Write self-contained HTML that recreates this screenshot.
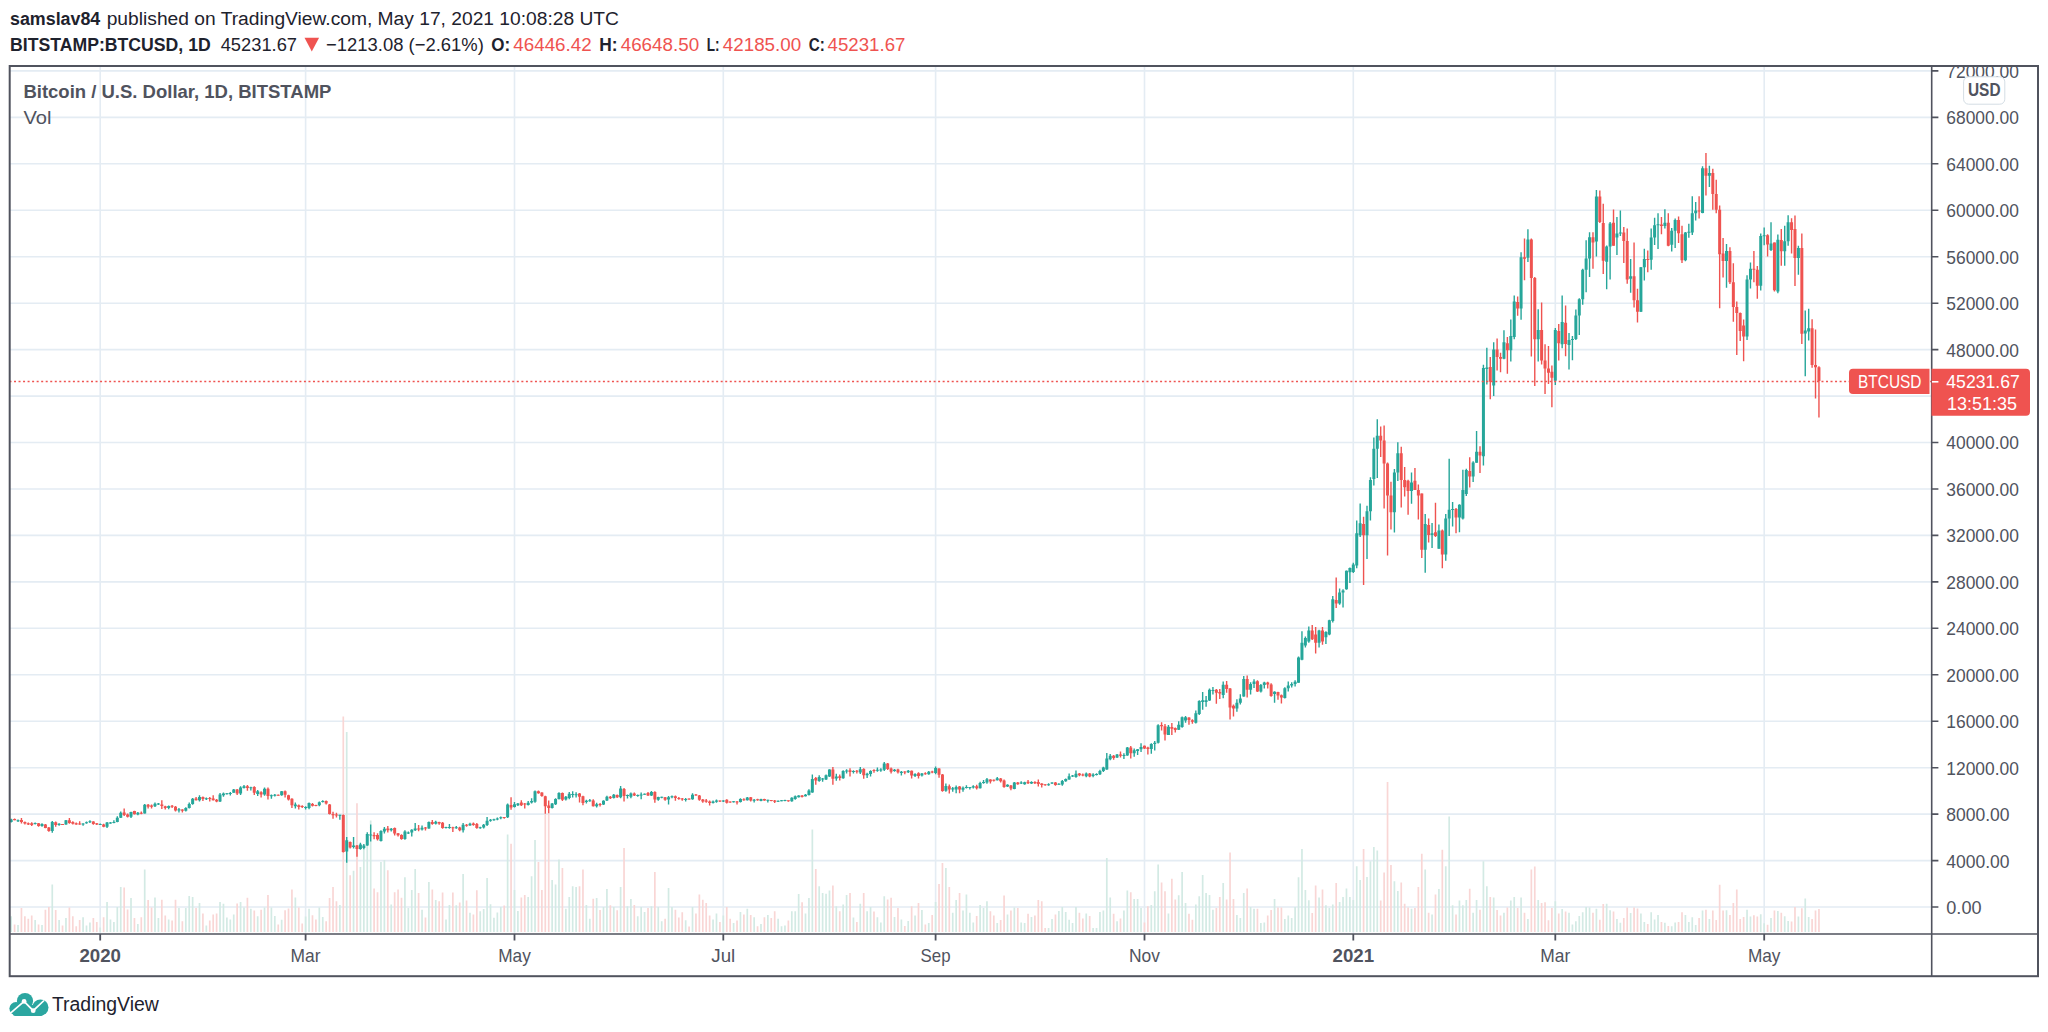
<!DOCTYPE html>
<html><head><meta charset="utf-8"><title>BTCUSD chart</title>
<style>html,body{margin:0;padding:0;background:#fff;width:2048px;height:1032px;overflow:hidden}body{position:relative}</style>
</head><body>
<svg width="2048" height="1032" viewBox="0 0 2048 1032" style="position:absolute;left:0;top:0">
<rect x="0" y="0" width="2048" height="1032" fill="#fff"/>
<path d="M10 907.0H1931 M10 860.6H1931 M10 814.1H1931 M10 767.7H1931 M10 721.2H1931 M10 674.8H1931 M10 628.3H1931 M10 581.9H1931 M10 535.4H1931 M10 489.0H1931 M10 442.5H1931 M10 396.1H1931 M10 349.6H1931 M10 303.2H1931 M10 256.7H1931 M10 210.3H1931 M10 163.8H1931 M10 117.4H1931 M10 70.9H1931 M100.2 66V933 M305.6 66V933 M514.5 66V933 M723.3 66V933 M935.6 66V933 M1144.5 66V933 M1353.3 66V933 M1555.3 66V933 M1764.2 66V933" stroke="#e4ecf3" stroke-width="1.6" fill="none"/>
<path d="M11.18 932.0V916.2 M18.03 932.0V925.0 M35.15 932.0V920.0 M42.00 932.0V925.0 M52.27 932.0V884.4 M59.11 932.0V920.0 M65.96 932.0V918.1 M83.08 932.0V917.2 M86.50 932.0V925.6 M89.93 932.0V922.5 M100.20 932.0V927.5 M107.05 932.0V901.9 M110.47 932.0V919.4 M113.90 932.0V921.9 M117.32 932.0V906.9 M120.74 932.0V886.9 M131.01 932.0V898.1 M137.86 932.0V924.0 M144.71 932.0V869.4 M154.98 932.0V897.5 M158.40 932.0V918.1 M168.68 932.0V919.4 M178.95 932.0V908.1 M185.80 932.0V908.1 M189.22 932.0V896.0 M192.64 932.0V896.9 M199.49 932.0V903.1 M206.34 932.0V925.6 M220.03 932.0V901.9 M223.46 932.0V903.8 M226.88 932.0V917.5 M230.30 932.0V919.4 M233.73 932.0V914.4 M240.58 932.0V901.9 M244.00 932.0V907.5 M250.85 932.0V908.8 M257.69 932.0V916.2 M264.54 932.0V907.5 M271.39 932.0V907.5 M274.81 932.0V916.0 M281.66 932.0V919.8 M295.36 932.0V897.5 M305.63 932.0V916.5 M309.05 932.0V908.8 M319.32 932.0V907.5 M322.75 932.0V916.9 M339.87 932.0V905.0 M346.71 932.0V732.0 M353.56 932.0V870.8 M360.41 932.0V867.1 M363.83 932.0V847.6 M367.26 932.0V843.1 M370.68 932.0V820.5 M380.95 932.0V861.9 M384.38 932.0V860.0 M391.22 932.0V904.4 M404.92 932.0V877.2 M408.34 932.0V908.1 M411.77 932.0V890.0 M415.19 932.0V869.0 M422.04 932.0V909.8 M428.88 932.0V881.9 M435.73 932.0V900.0 M446.00 932.0V919.4 M449.43 932.0V905.0 M456.28 932.0V905.2 M463.12 932.0V874.0 M469.97 932.0V912.8 M480.24 932.0V911.2 M483.67 932.0V909.0 M487.09 932.0V878.1 M490.51 932.0V904.3 M493.94 932.0V917.8 M497.36 932.0V912.4 M500.78 932.0V906.9 M507.63 932.0V834.4 M514.48 932.0V889.9 M517.90 932.0V910.9 M528.18 932.0V896.9 M531.60 932.0V876.2 M535.02 932.0V840.0 M552.14 932.0V880.0 M555.57 932.0V884.4 M558.99 932.0V859.4 M565.84 932.0V908.8 M569.26 932.0V896.9 M572.68 932.0V886.2 M576.11 932.0V886.9 M586.38 932.0V905.0 M589.80 932.0V918.8 M596.65 932.0V898.1 M603.50 932.0V906.9 M606.92 932.0V889.0 M613.77 932.0V906.9 M620.62 932.0V886.9 M627.47 932.0V906.2 M630.89 932.0V899.0 M637.74 932.0V916.2 M641.16 932.0V906.9 M644.58 932.0V911.9 M651.43 932.0V906.2 M658.28 932.0V906.9 M661.70 932.0V921.2 M668.55 932.0V888.1 M671.97 932.0V906.9 M685.67 932.0V920.2 M692.52 932.0V906.9 M713.06 932.0V919.4 M716.48 932.0V913.5 M723.33 932.0V915.6 M733.60 932.0V923.1 M740.45 932.0V911.9 M747.30 932.0V908.8 M754.15 932.0V917.2 M760.99 932.0V924.0 M767.84 932.0V915.0 M778.11 932.0V918.8 M781.54 932.0V926.2 M784.96 932.0V925.6 M791.81 932.0V911.2 M795.23 932.0V911.2 M798.66 932.0V894.0 M805.50 932.0V913.5 M808.93 932.0V898.1 M812.35 932.0V829.5 M819.20 932.0V886.2 M822.62 932.0V893.1 M826.05 932.0V893.8 M829.47 932.0V890.6 M836.32 932.0V906.2 M843.16 932.0V904.4 M846.59 932.0V895.0 M853.44 932.0V917.5 M860.28 932.0V903.8 M867.13 932.0V911.2 M870.56 932.0V906.9 M877.40 932.0V917.2 M880.83 932.0V922.5 M884.25 932.0V896.2 M894.52 932.0V916.9 M901.37 932.0V919.4 M908.22 932.0V921.0 M915.06 932.0V915.6 M921.91 932.0V910.0 M928.76 932.0V923.1 M935.61 932.0V901.9 M945.88 932.0V868.1 M952.73 932.0V912.8 M956.15 932.0V900.0 M963.00 932.0V910.6 M966.42 932.0V894.4 M969.85 932.0V912.8 M973.27 932.0V922.5 M980.12 932.0V905.0 M983.54 932.0V908.1 M986.96 932.0V901.2 M997.24 932.0V923.1 M1007.51 932.0V914.4 M1014.35 932.0V907.5 M1021.20 932.0V922.5 M1024.63 932.0V923.1 M1031.47 932.0V916.9 M1048.59 932.0V928.1 M1052.02 932.0V919.0 M1058.86 932.0V911.0 M1062.29 932.0V906.9 M1065.71 932.0V911.9 M1069.14 932.0V919.8 M1072.56 932.0V923.1 M1075.98 932.0V906.9 M1086.25 932.0V913.5 M1093.10 932.0V928.1 M1096.53 932.0V928.1 M1099.95 932.0V911.9 M1103.37 932.0V910.6 M1106.80 932.0V858.1 M1110.22 932.0V897.5 M1117.07 932.0V921.2 M1123.92 932.0V910.6 M1127.34 932.0V890.6 M1134.19 932.0V899.0 M1137.61 932.0V899.0 M1141.04 932.0V908.1 M1151.31 932.0V905.0 M1154.73 932.0V891.2 M1158.15 932.0V864.4 M1168.43 932.0V913.5 M1178.70 932.0V895.2 M1182.12 932.0V871.9 M1185.54 932.0V903.1 M1195.82 932.0V904.4 M1199.24 932.0V896.2 M1202.66 932.0V875.0 M1206.09 932.0V893.1 M1209.51 932.0V895.0 M1212.93 932.0V909.8 M1223.21 932.0V883.1 M1236.90 932.0V915.0 M1240.33 932.0V918.1 M1243.75 932.0V893.1 M1250.60 932.0V906.9 M1254.02 932.0V908.8 M1260.87 932.0V923.1 M1264.29 932.0V922.5 M1274.56 932.0V899.0 M1284.83 932.0V919.0 M1288.26 932.0V915.6 M1291.68 932.0V918.1 M1295.11 932.0V906.9 M1298.53 932.0V877.2 M1301.95 932.0V849.0 M1305.38 932.0V890.0 M1308.80 932.0V900.2 M1319.07 932.0V897.5 M1325.92 932.0V905.2 M1329.34 932.0V908.1 M1332.77 932.0V904.4 M1339.62 932.0V901.9 M1343.04 932.0V896.9 M1346.46 932.0V888.5 M1349.89 932.0V896.9 M1353.31 932.0V900.0 M1356.73 932.0V866.2 M1360.16 932.0V880.0 M1367.01 932.0V876.9 M1370.43 932.0V861.2 M1373.85 932.0V846.9 M1377.28 932.0V850.6 M1394.40 932.0V881.2 M1397.82 932.0V891.0 M1411.52 932.0V908.8 M1425.21 932.0V869.4 M1432.06 932.0V914.4 M1438.91 932.0V889.0 M1445.75 932.0V866.2 M1449.18 932.0V816.4 M1452.60 932.0V905.2 M1459.45 932.0V900.6 M1462.87 932.0V905.2 M1466.30 932.0V900.0 M1473.14 932.0V912.8 M1476.57 932.0V900.0 M1483.42 932.0V861.2 M1486.84 932.0V886.2 M1493.69 932.0V897.5 M1503.96 932.0V912.8 M1510.81 932.0V900.6 M1514.23 932.0V896.9 M1521.08 932.0V897.5 M1527.92 932.0V919.0 M1538.20 932.0V900.0 M1555.32 932.0V901.2 M1562.16 932.0V909.0 M1569.01 932.0V912.8 M1572.43 932.0V924.4 M1575.86 932.0V921.2 M1579.28 932.0V916.0 M1582.71 932.0V912.2 M1586.13 932.0V906.9 M1589.55 932.0V907.5 M1596.40 932.0V908.8 M1606.67 932.0V903.8 M1610.10 932.0V910.2 M1616.94 932.0V919.0 M1620.37 932.0V922.8 M1630.64 932.0V913.1 M1640.91 932.0V913.5 M1644.33 932.0V921.9 M1651.18 932.0V912.2 M1654.61 932.0V919.4 M1658.03 932.0V915.0 M1664.88 932.0V922.8 M1671.72 932.0V926.2 M1675.15 932.0V922.5 M1685.42 932.0V915.0 M1688.84 932.0V921.9 M1692.27 932.0V917.2 M1695.69 932.0V925.0 M1702.54 932.0V910.6 M1709.39 932.0V919.0 M1726.51 932.0V910.2 M1747.05 932.0V909.8 M1750.47 932.0V916.5 M1760.74 932.0V914.3 M1764.17 932.0V923.2 M1771.01 932.0V918.1 M1777.86 932.0V911.1 M1784.71 932.0V916.2 M1788.13 932.0V921.0 M1798.40 932.0V916.4 M1805.25 932.0V898.4 M1808.68 932.0V917.0" stroke="#d3eae4" stroke-width="1.7" fill="none"/>
<path d="M14.61 932.0V924.4 M21.45 932.0V908.1 M24.88 932.0V916.2 M28.30 932.0V918.8 M31.72 932.0V915.6 M38.57 932.0V924.4 M45.42 932.0V909.8 M48.84 932.0V906.9 M55.69 932.0V910.0 M62.54 932.0V925.6 M69.39 932.0V907.5 M72.81 932.0V916.2 M76.23 932.0V926.2 M79.66 932.0V920.0 M93.35 932.0V918.1 M96.78 932.0V921.9 M103.62 932.0V917.2 M124.17 932.0V887.5 M127.59 932.0V909.4 M134.44 932.0V918.1 M141.29 932.0V917.2 M148.13 932.0V900.0 M151.56 932.0V907.5 M161.83 932.0V899.8 M165.25 932.0V915.6 M172.10 932.0V920.6 M175.52 932.0V899.8 M182.37 932.0V921.2 M196.07 932.0V908.1 M202.91 932.0V913.5 M209.76 932.0V920.6 M213.19 932.0V914.4 M216.61 932.0V913.5 M237.15 932.0V903.5 M247.42 932.0V897.8 M254.27 932.0V910.6 M261.12 932.0V909.8 M267.97 932.0V895.0 M278.24 932.0V924.4 M285.09 932.0V910.2 M288.51 932.0V908.5 M291.93 932.0V889.4 M298.78 932.0V907.5 M302.20 932.0V923.5 M312.48 932.0V915.2 M315.90 932.0V919.4 M326.17 932.0V921.2 M329.59 932.0V898.1 M333.02 932.0V886.9 M336.44 932.0V901.2 M343.29 932.0V716.5 M350.14 932.0V875.3 M356.98 932.0V803.3 M374.10 932.0V888.5 M377.53 932.0V892.2 M387.80 932.0V870.2 M394.65 932.0V892.2 M398.07 932.0V889.4 M401.49 932.0V897.8 M418.61 932.0V893.1 M425.46 932.0V917.5 M432.31 932.0V889.4 M439.16 932.0V901.2 M442.58 932.0V892.5 M452.85 932.0V892.5 M459.70 932.0V902.5 M466.55 932.0V900.6 M473.39 932.0V914.4 M476.82 932.0V890.2 M504.21 932.0V905.4 M511.06 932.0V843.8 M521.33 932.0V897.5 M524.75 932.0V895.0 M538.45 932.0V861.9 M541.87 932.0V890.0 M545.29 932.0V813.8 M548.72 932.0V813.2 M562.41 932.0V868.1 M579.53 932.0V886.2 M582.96 932.0V869.4 M593.23 932.0V898.8 M600.07 932.0V910.0 M610.35 932.0V905.2 M617.19 932.0V910.2 M624.04 932.0V848.1 M634.31 932.0V905.0 M648.01 932.0V908.1 M654.86 932.0V871.9 M665.13 932.0V918.8 M675.40 932.0V909.8 M678.82 932.0V917.5 M682.25 932.0V912.2 M689.09 932.0V926.5 M695.94 932.0V913.5 M699.37 932.0V894.4 M702.79 932.0V899.8 M706.21 932.0V903.1 M709.64 932.0V915.6 M719.91 932.0V921.9 M726.76 932.0V906.9 M730.18 932.0V918.8 M737.03 932.0V920.6 M743.87 932.0V914.4 M750.72 932.0V915.0 M757.57 932.0V926.2 M764.42 932.0V917.2 M771.26 932.0V918.1 M774.69 932.0V911.2 M788.38 932.0V920.6 M802.08 932.0V902.2 M815.77 932.0V869.0 M832.89 932.0V885.6 M839.74 932.0V911.2 M850.01 932.0V893.1 M856.86 932.0V921.9 M863.71 932.0V893.1 M873.98 932.0V911.5 M887.67 932.0V899.4 M891.10 932.0V897.8 M897.95 932.0V908.1 M904.79 932.0V926.0 M911.64 932.0V906.2 M918.49 932.0V903.1 M925.34 932.0V924.4 M932.18 932.0V915.0 M939.03 932.0V884.0 M942.45 932.0V863.1 M949.30 932.0V886.9 M959.57 932.0V893.1 M976.69 932.0V916.0 M990.39 932.0V911.2 M993.81 932.0V915.6 M1000.66 932.0V920.0 M1004.08 932.0V895.6 M1010.93 932.0V910.6 M1017.78 932.0V908.1 M1028.05 932.0V913.8 M1034.90 932.0V915.6 M1038.32 932.0V900.0 M1041.74 932.0V901.2 M1045.17 932.0V928.1 M1055.44 932.0V914.4 M1079.41 932.0V912.8 M1082.83 932.0V918.5 M1089.68 932.0V916.0 M1113.64 932.0V913.8 M1120.49 932.0V918.5 M1130.76 932.0V892.2 M1144.46 932.0V922.5 M1147.88 932.0V906.2 M1161.58 932.0V882.5 M1165.00 932.0V891.2 M1171.85 932.0V878.8 M1175.27 932.0V899.4 M1188.97 932.0V913.8 M1192.39 932.0V919.8 M1216.36 932.0V908.1 M1219.78 932.0V896.9 M1226.63 932.0V899.4 M1230.05 932.0V852.5 M1233.48 932.0V899.0 M1247.17 932.0V888.5 M1257.44 932.0V908.8 M1267.72 932.0V915.6 M1271.14 932.0V910.0 M1277.99 932.0V907.5 M1281.41 932.0V907.5 M1312.23 932.0V913.1 M1315.65 932.0V885.6 M1322.50 932.0V889.4 M1336.19 932.0V883.1 M1363.58 932.0V849.0 M1380.70 932.0V900.6 M1384.12 932.0V872.5 M1387.55 932.0V782.1 M1390.97 932.0V865.0 M1401.24 932.0V882.5 M1404.67 932.0V903.8 M1408.09 932.0V907.5 M1414.94 932.0V908.1 M1418.36 932.0V886.9 M1421.79 932.0V853.8 M1428.63 932.0V912.8 M1435.48 932.0V894.4 M1442.33 932.0V849.8 M1456.02 932.0V914.4 M1469.72 932.0V888.8 M1479.99 932.0V909.8 M1490.26 932.0V896.9 M1497.11 932.0V910.0 M1500.53 932.0V915.6 M1507.38 932.0V907.5 M1517.65 932.0V908.1 M1524.50 932.0V912.8 M1531.35 932.0V869.4 M1534.77 932.0V866.5 M1541.62 932.0V903.1 M1545.04 932.0V902.2 M1548.47 932.0V920.2 M1551.89 932.0V908.1 M1558.74 932.0V913.5 M1565.59 932.0V911.5 M1592.98 932.0V912.8 M1599.82 932.0V919.8 M1603.25 932.0V904.0 M1613.52 932.0V911.5 M1623.79 932.0V918.1 M1627.21 932.0V907.5 M1634.06 932.0V907.5 M1637.49 932.0V908.5 M1647.76 932.0V924.0 M1661.45 932.0V921.9 M1668.30 932.0V926.0 M1678.57 932.0V921.9 M1682.00 932.0V912.2 M1699.11 932.0V918.1 M1705.96 932.0V909.8 M1712.81 932.0V910.6 M1716.23 932.0V920.0 M1719.66 932.0V884.8 M1723.08 932.0V910.6 M1729.93 932.0V915.0 M1733.35 932.0V903.1 M1736.78 932.0V889.4 M1740.20 932.0V919.0 M1743.62 932.0V916.9 M1753.90 932.0V915.2 M1757.32 932.0V916.5 M1767.59 932.0V924.8 M1774.44 932.0V910.4 M1781.29 932.0V912.8 M1791.56 932.0V921.6 M1794.98 932.0V907.1 M1801.83 932.0V908.3 M1812.10 932.0V919.0 M1815.52 932.0V910.4 M1818.95 932.0V909.0" stroke="#f9d6d5" stroke-width="1.7" fill="none"/>
<path d="M11.18 818.7V822.5 M18.03 819.4V821.9 M35.15 822.5V824.4 M42.00 823.2V826.7 M52.27 820.9V832.7 M59.11 823.2V825.7 M65.96 820.0V824.8 M83.08 823.2V825.7 M86.50 821.6V823.8 M89.93 820.3V822.9 M100.20 823.5V825.1 M107.05 821.9V827.9 M110.47 821.9V823.8 M113.90 820.3V823.2 M117.32 816.2V822.2 M120.74 811.4V818.1 M131.01 811.7V818.1 M137.86 812.1V815.2 M144.71 804.1V813.6 M154.98 802.5V807.0 M158.40 802.9V805.1 M168.68 805.4V809.2 M178.95 807.9V812.4 M185.80 807.3V811.4 M189.22 802.5V808.6 M192.64 798.1V804.8 M199.49 795.2V801.6 M206.34 797.5V800.0 M220.03 793.0V801.9 M223.46 792.4V796.8 M226.88 793.0V794.6 M230.30 792.1V795.6 M233.73 788.9V792.7 M240.58 786.3V794.9 M244.00 785.1V788.6 M250.85 786.7V790.5 M257.69 790.0V796.1 M264.54 787.4V795.7 M271.39 794.4V798.7 M274.81 794.0V796.6 M281.66 790.9V795.7 M295.36 802.5V808.6 M305.63 806.2V809.6 M309.05 802.5V809.2 M319.32 801.4V806.2 M322.75 800.2V802.5 M339.87 814.7V819.7 M346.71 837.1V862.8 M353.56 837.1V848.4 M360.41 842.8V849.8 M363.83 844.1V849.3 M367.26 832.3V845.8 M370.68 824.5V841.5 M380.95 830.2V841.4 M384.38 827.1V833.6 M391.22 828.1V831.5 M404.92 830.2V839.7 M408.34 831.5V833.9 M411.77 829.2V836.6 M415.19 823.1V830.9 M422.04 825.4V830.5 M428.88 821.4V828.8 M435.73 820.7V824.4 M446.00 826.8V828.5 M449.43 824.1V828.8 M456.28 826.1V828.8 M463.12 823.1V832.6 M469.97 822.7V825.8 M480.24 826.8V828.8 M483.67 824.1V828.5 M487.09 817.0V826.1 M490.51 819.0V821.7 M493.94 818.7V820.7 M497.36 817.6V820.3 M500.78 816.6V819.3 M507.63 803.6V817.9 M514.48 802.1V807.5 M517.90 803.0V805.9 M528.18 801.1V805.5 M531.60 798.2V803.6 M535.02 790.6V802.7 M552.14 803.0V808.4 M555.57 798.2V804.9 M558.99 792.2V799.5 M565.84 796.0V800.5 M569.26 791.9V799.2 M572.68 791.3V797.6 M576.11 792.2V797.6 M586.38 799.8V803.6 M589.80 798.9V801.7 M596.65 802.7V807.5 M603.50 800.3V804.9 M606.92 795.7V801.1 M613.77 794.1V798.6 M620.62 785.9V798.2 M627.47 794.4V798.6 M630.89 792.5V798.2 M637.74 794.4V796.7 M641.16 792.5V799.2 M644.58 793.5V794.8 M651.43 790.9V796.0 M658.28 796.7V800.8 M661.70 796.7V798.2 M668.55 796.0V804.6 M671.97 795.4V798.2 M685.67 797.9V801.4 M692.52 793.2V799.8 M713.06 800.5V803.6 M716.48 799.5V802.7 M723.33 800.2V802.1 M733.60 801.1V802.4 M740.45 798.2V802.4 M747.30 797.0V800.5 M754.15 798.9V802.4 M760.99 798.8V801.3 M767.84 799.8V802.6 M778.11 800.4V802.0 M781.54 800.1V801.3 M784.96 799.8V801.3 M791.81 797.2V801.7 M795.23 795.6V799.8 M798.66 795.3V797.5 M805.50 794.0V796.6 M808.93 789.3V795.6 M812.35 774.4V792.8 M819.20 775.3V781.7 M822.62 777.9V781.7 M826.05 774.4V780.1 M829.47 769.3V776.9 M836.32 773.7V780.7 M843.16 770.2V778.8 M846.59 769.3V773.4 M853.44 770.2V773.4 M860.28 767.1V774.0 M867.13 772.8V777.9 M870.56 770.2V776.6 M877.40 767.4V771.8 M880.83 768.3V771.8 M884.25 762.1V771.0 M894.52 769.1V771.7 M901.37 771.0V775.5 M908.22 770.1V772.9 M915.06 773.2V777.1 M921.91 772.9V776.4 M928.76 771.0V774.8 M935.61 766.6V774.2 M945.88 783.4V791.7 M952.73 786.9V791.7 M956.15 785.6V793.2 M963.00 786.6V791.7 M966.42 785.3V788.5 M969.85 786.9V789.4 M973.27 785.3V788.5 M980.12 781.8V788.5 M983.54 779.9V783.7 M986.96 778.0V783.7 M997.24 777.1V780.5 M1007.51 784.2V787.1 M1014.35 782.0V789.3 M1021.20 781.3V783.9 M1024.63 781.7V784.8 M1031.47 781.3V783.9 M1048.59 783.2V785.8 M1052.02 782.3V783.9 M1058.86 783.2V784.8 M1062.29 780.1V785.8 M1065.71 778.5V781.7 M1069.14 773.4V779.8 M1072.56 775.0V776.9 M1075.98 770.5V777.8 M1086.25 772.5V777.2 M1093.10 773.3V777.2 M1096.53 773.3V775.5 M1099.95 769.8V775.0 M1103.37 766.7V772.0 M1106.80 753.0V769.8 M1110.22 754.1V760.2 M1117.07 754.1V758.0 M1123.92 753.2V758.9 M1127.34 746.9V755.8 M1134.19 748.4V756.7 M1137.61 748.9V755.0 M1141.04 743.2V751.9 M1151.31 743.2V753.7 M1154.73 741.0V750.6 M1158.15 724.3V743.6 M1168.43 725.1V735.0 M1178.70 721.3V730.1 M1182.12 716.6V727.8 M1185.54 715.9V722.7 M1195.82 710.6V723.4 M1199.24 700.3V714.9 M1202.66 692.1V709.8 M1206.09 695.9V706.7 M1209.51 688.4V701.0 M1212.93 687.1V694.5 M1223.21 681.6V698.2 M1236.90 699.3V711.8 M1240.33 694.2V704.4 M1243.75 676.1V696.7 M1250.60 682.2V694.6 M1254.02 679.3V688.0 M1260.87 684.1V692.6 M1264.29 681.7V688.5 M1274.56 691.2V702.8 M1284.83 687.3V698.4 M1288.26 681.5V691.4 M1291.68 682.2V687.5 M1295.11 680.3V686.6 M1298.53 656.5V682.7 M1301.95 631.2V660.3 M1305.38 636.6V647.5 M1308.80 626.4V642.7 M1319.07 629.8V647.5 M1325.92 631.2V644.1 M1329.34 619.7V635.3 M1332.77 595.9V622.4 M1339.62 588.5V604.7 M1343.04 589.2V607.5 M1346.46 570.6V589.8 M1349.89 567.5V583.1 M1353.31 562.8V572.9 M1356.73 520.4V568.3 M1360.16 503.5V537.0 M1367.01 505.7V559.1 M1370.43 477.2V520.4 M1373.85 437.6V485.5 M1377.28 419.2V478.1 M1394.40 468.9V532.4 M1397.82 442.2V480.9 M1411.52 472.5V503.7 M1425.21 513.9V572.8 M1432.06 523.1V547.9 M1438.91 524.5V548.8 M1445.75 513.9V560.8 M1449.18 458.7V536.0 M1452.60 501.9V526.4 M1459.45 504.3V532.3 M1462.87 469.7V519.4 M1466.30 468.7V495.9 M1473.14 461.3V482.1 M1476.57 431.1V462.8 M1483.42 364.8V465.5 M1486.84 347.7V384.5 M1493.69 342.2V396.1 M1503.96 330.2V359.3 M1510.81 319.4V361.5 M1514.23 295.4V339.2 M1521.08 252.3V319.8 M1527.92 229.3V261.9 M1538.20 309.3V361.5 M1555.32 328.0V384.9 M1562.16 295.4V348.3 M1569.01 332.9V369.5 M1572.43 335.9V360.3 M1575.86 309.5V340.0 M1579.28 298.3V334.9 M1582.71 268.8V304.8 M1586.13 240.3V292.2 M1589.55 232.2V276.9 M1596.40 190.1V256.6 M1606.67 245.4V289.2 M1610.10 222.0V279.6 M1616.94 217.0V254.9 M1620.37 210.4V235.9 M1630.64 259.0V292.8 M1640.91 266.9V312.1 M1644.33 248.8V280.4 M1651.18 228.5V269.7 M1654.61 217.8V245.0 M1658.03 213.2V249.1 M1664.88 209.2V228.5 M1671.72 228.1V251.6 M1675.15 218.5V248.1 M1685.42 232.1V261.2 M1688.84 223.7V237.7 M1692.27 196.2V235.1 M1695.69 201.9V220.6 M1702.54 166.2V213.3 M1709.39 165.8V187.1 M1726.51 244.1V287.7 M1747.05 275.3V340.1 M1750.47 262.5V288.6 M1760.74 233.4V290.4 M1764.17 227.5V245.3 M1771.01 222.3V250.9 M1777.86 234.6V293.2 M1784.71 225.7V265.8 M1788.13 215.2V245.7 M1798.40 245.7V274.7 M1805.25 310.4V376.2 M1808.68 308.8V340.5" stroke="#26a69a" stroke-width="1.4" fill="none"/>
<path d="M14.61 818.4V820.3 M21.45 817.9V823.6 M24.88 821.6V824.4 M28.30 822.5V824.9 M31.72 822.2V826.0 M38.57 822.9V826.7 M45.42 824.0V828.2 M48.84 827.0V831.7 M55.69 821.6V826.7 M62.54 824.1V825.1 M69.39 818.1V823.8 M72.81 821.3V824.4 M76.23 822.5V824.8 M79.66 821.3V824.8 M93.35 821.3V824.8 M96.78 822.9V825.1 M103.62 823.8V827.3 M124.17 808.6V815.9 M127.59 813.6V817.5 M134.44 810.8V814.6 M141.29 811.4V814.3 M148.13 804.1V808.6 M151.56 804.4V808.6 M161.83 800.2V808.9 M165.25 805.7V809.5 M172.10 805.1V807.9 M175.52 806.0V811.4 M182.37 809.2V812.4 M196.07 797.1V800.6 M202.91 796.5V800.9 M209.76 797.1V801.6 M213.19 795.2V800.6 M216.61 799.0V802.2 M237.15 788.9V794.9 M247.42 785.1V790.8 M254.27 786.3V794.9 M261.12 791.3V797.4 M267.97 787.4V799.6 M278.24 794.4V795.7 M285.09 790.5V797.4 M288.51 794.8V800.5 M291.93 798.3V807.9 M298.78 804.4V809.6 M302.20 805.3V807.9 M312.48 803.1V806.6 M315.90 804.8V806.2 M326.17 800.5V804.4 M329.59 804.0V814.4 M333.02 811.8V818.8 M336.44 812.7V817.5 M343.29 814.4V852.4 M350.14 841.5V848.4 M356.98 845.0V856.7 M374.10 832.3V839.3 M377.53 833.2V840.6 M387.80 826.1V832.6 M394.65 827.5V835.6 M398.07 832.9V836.6 M401.49 834.3V839.7 M418.61 825.1V831.2 M425.46 827.1V830.5 M432.31 820.0V824.8 M439.16 821.7V824.8 M442.58 822.0V828.8 M452.85 826.8V831.9 M459.70 826.8V831.2 M466.55 824.1V826.8 M473.39 822.4V825.8 M476.82 823.1V828.8 M504.21 817.0V818.7 M511.06 797.3V809.7 M521.33 800.2V805.9 M524.75 803.0V808.4 M538.45 790.6V793.8 M541.87 792.2V796.7 M545.29 795.7V813.8 M548.72 800.5V813.2 M562.41 792.5V801.1 M579.53 792.9V802.4 M582.96 795.7V805.2 M593.23 799.2V806.5 M600.07 803.0V806.5 M610.35 796.0V798.9 M617.19 794.4V797.9 M624.04 788.1V801.4 M634.31 792.5V796.0 M648.01 791.9V796.0 M654.86 791.3V802.7 M665.13 797.0V800.8 M675.40 795.4V800.8 M678.82 797.0V799.8 M682.25 797.9V800.8 M689.09 798.6V799.8 M695.94 794.1V795.7 M699.37 795.1V800.8 M702.79 798.9V802.7 M706.21 798.9V802.7 M709.64 800.5V805.5 M719.91 800.5V802.1 M726.76 799.2V803.6 M730.18 801.4V802.7 M737.03 801.1V804.6 M743.87 798.2V800.8 M750.72 797.0V801.4 M757.57 798.8V800.7 M764.42 798.8V800.7 M771.26 800.1V801.3 M774.69 800.1V802.9 M788.38 800.4V801.7 M802.08 795.0V797.5 M815.77 776.9V784.8 M832.89 767.1V784.8 M839.74 774.4V780.4 M850.01 768.3V776.6 M856.86 769.9V773.4 M863.71 768.3V778.8 M873.98 769.3V772.8 M887.67 763.1V770.1 M891.10 767.5V773.6 M897.95 768.8V773.6 M904.79 771.3V774.2 M911.64 770.4V778.6 M918.49 772.3V778.6 M925.34 772.3V774.8 M932.18 770.7V773.2 M939.03 768.2V777.7 M942.45 773.9V791.7 M949.30 784.4V793.6 M959.57 785.9V793.2 M976.69 784.7V789.4 M990.39 779.3V783.4 M993.81 779.6V781.5 M1000.66 778.0V782.5 M1004.08 779.6V787.8 M1010.93 785.1V790.2 M1017.78 782.0V784.8 M1028.05 780.1V783.9 M1034.90 781.3V783.9 M1038.32 779.4V786.4 M1041.74 783.2V787.4 M1045.17 784.2V785.8 M1055.44 782.0V785.8 M1079.41 773.1V776.3 M1082.83 773.4V776.3 M1089.68 773.1V777.2 M1113.64 755.1V759.8 M1120.49 751.5V757.6 M1130.76 746.1V758.5 M1144.46 745.4V748.9 M1147.88 746.7V754.5 M1161.58 722.2V730.5 M1165.00 724.0V740.6 M1171.85 723.0V734.9 M1175.27 727.4V732.5 M1188.97 717.2V724.7 M1192.39 719.3V723.7 M1216.36 689.1V703.7 M1219.78 689.1V698.9 M1226.63 680.9V692.8 M1230.05 688.1V719.6 M1233.48 704.4V716.6 M1247.17 675.4V697.5 M1257.44 680.3V691.9 M1267.72 681.7V688.5 M1271.14 683.2V696.7 M1277.99 691.7V699.7 M1281.41 694.6V703.5 M1312.23 625.1V640.0 M1315.65 627.1V653.6 M1322.50 627.1V644.7 M1336.19 577.6V608.1 M1363.58 516.8V584.9 M1380.70 426.6V456.9 M1384.12 425.6V508.5 M1387.55 462.5V555.4 M1390.97 481.8V529.6 M1401.24 446.8V507.6 M1404.67 467.1V496.5 M1408.09 479.8V514.8 M1414.94 467.9V489.9 M1418.36 484.4V519.4 M1421.79 493.6V558.0 M1428.63 518.5V542.4 M1435.48 502.8V536.9 M1442.33 529.5V568.2 M1456.02 508.0V533.2 M1469.72 457.2V487.6 M1479.99 446.2V472.9 M1490.26 356.9V399.3 M1497.11 338.5V370.4 M1500.53 352.7V372.2 M1507.38 337.1V373.7 M1517.65 296.4V315.8 M1524.50 238.5V280.2 M1531.35 238.5V356.4 M1534.77 277.1V385.9 M1541.62 302.5V364.6 M1545.04 344.2V394.1 M1548.47 345.9V383.9 M1551.89 365.6V407.3 M1558.74 323.9V360.5 M1565.59 305.4V356.3 M1592.98 232.2V268.8 M1599.82 190.5V223.1 M1603.25 203.7V273.9 M1613.52 209.6V245.8 M1623.79 226.9V263.1 M1627.21 228.5V283.7 M1634.06 242.5V307.6 M1637.49 288.7V322.5 M1647.76 250.4V272.2 M1661.45 217.0V234.3 M1668.30 213.2V246.2 M1678.57 216.4V242.9 M1682.00 225.8V263.0 M1699.11 196.2V218.5 M1705.96 153.1V195.5 M1712.81 168.8V209.8 M1716.23 179.8V213.3 M1719.66 205.4V308.3 M1723.08 238.0V277.6 M1729.93 247.2V284.0 M1733.35 263.2V321.7 M1736.78 301.5V354.9 M1740.20 312.5V341.1 M1743.62 319.5V361.3 M1753.90 250.9V282.2 M1757.32 266.1V298.7 M1767.59 234.3V256.4 M1774.44 242.4V291.5 M1781.29 229.0V265.8 M1791.56 218.3V253.5 M1794.98 215.6V285.9 M1801.83 233.5V343.9 M1812.10 319.3V367.7 M1815.52 329.4V398.5 M1818.95 366.2V417.5" stroke="#ef5350" stroke-width="1.4" fill="none"/>
<path d="M9.68 819.4h3.0V821.9h-3.0z M16.53 820.2h3.0V821.3h-3.0z M33.65 823.1h3.0V824.1h-3.0z M40.50 824.1h3.0V826.0h-3.0z M50.77 821.9h3.0V831.1h-3.0z M57.61 823.8h3.0V825.1h-3.0z M64.46 820.3h3.0V824.4h-3.0z M81.58 823.5h3.0V824.5h-3.0z M85.00 822.2h3.0V823.2h-3.0z M88.43 821.3h3.0V822.3h-3.0z M98.70 823.9h3.0V824.9h-3.0z M105.55 822.5h3.0V826.7h-3.0z M108.97 822.5h3.0V823.5h-3.0z M112.40 821.9h3.0V822.9h-3.0z M115.82 817.8h3.0V821.9h-3.0z M119.24 812.7h3.0V817.8h-3.0z M129.51 812.1h3.0V816.8h-3.0z M136.36 812.7h3.0V814.6h-3.0z M143.21 804.8h3.0V813.6h-3.0z M153.48 803.8h3.0V806.3h-3.0z M156.90 803.6h3.0V804.6h-3.0z M167.18 806.0h3.0V807.9h-3.0z M177.45 809.2h3.0V810.5h-3.0z M184.30 807.9h3.0V810.8h-3.0z M187.72 804.1h3.0V807.9h-3.0z M191.14 798.7h3.0V804.1h-3.0z M197.99 797.1h3.0V800.3h-3.0z M204.84 798.2h3.0V799.2h-3.0z M218.53 794.6h3.0V801.6h-3.0z M221.96 793.6h3.0V795.2h-3.0z M225.38 793.3h3.0V794.3h-3.0z M228.80 793.0h3.0V794.0h-3.0z M232.23 789.5h3.0V792.7h-3.0z M239.08 787.6h3.0V793.6h-3.0z M242.50 786.3h3.0V787.9h-3.0z M249.35 787.3h3.0V788.3h-3.0z M256.19 791.3h3.0V794.0h-3.0z M263.04 788.7h3.0V794.4h-3.0z M269.89 795.2h3.0V796.2h-3.0z M273.31 794.8h3.0V795.8h-3.0z M280.16 791.3h3.0V795.3h-3.0z M293.86 804.4h3.0V806.2h-3.0z M304.13 807.0h3.0V808.0h-3.0z M307.55 803.1h3.0V807.9h-3.0z M317.82 802.2h3.0V805.3h-3.0z M321.25 800.9h3.0V801.9h-3.0z M338.37 814.8h3.0V815.8h-3.0z M345.21 840.2h3.0V851.5h-3.0z M352.06 845.4h3.0V847.1h-3.0z M358.91 844.5h3.0V848.9h-3.0z M362.33 845.4h3.0V848.0h-3.0z M365.76 834.1h3.0V845.4h-3.0z M369.18 834.4h3.0V835.4h-3.0z M379.45 830.9h3.0V841.0h-3.0z M382.88 828.8h3.0V831.5h-3.0z M389.72 828.8h3.0V830.2h-3.0z M403.42 831.5h3.0V839.0h-3.0z M406.84 832.4h3.0V833.4h-3.0z M410.27 829.8h3.0V832.6h-3.0z M413.69 828.5h3.0V830.2h-3.0z M420.54 827.8h3.0V829.5h-3.0z M427.38 822.0h3.0V828.5h-3.0z M434.23 821.7h3.0V823.7h-3.0z M444.50 827.1h3.0V828.1h-3.0z M447.93 827.0h3.0V828.0h-3.0z M454.78 827.3h3.0V828.3h-3.0z M461.62 824.8h3.0V830.2h-3.0z M468.47 823.7h3.0V825.4h-3.0z M478.74 827.3h3.0V828.3h-3.0z M482.17 824.8h3.0V827.5h-3.0z M485.59 820.7h3.0V825.1h-3.0z M489.01 819.8h3.0V820.8h-3.0z M492.44 819.3h3.0V820.3h-3.0z M495.86 818.5h3.0V819.5h-3.0z M499.28 817.3h3.0V818.3h-3.0z M506.13 804.6h3.0V817.3h-3.0z M512.98 804.3h3.0V807.1h-3.0z M516.40 803.6h3.0V805.2h-3.0z M526.68 802.7h3.0V804.9h-3.0z M530.10 801.1h3.0V802.4h-3.0z M533.52 791.3h3.0V801.7h-3.0z M550.64 803.6h3.0V808.1h-3.0z M554.07 798.9h3.0V804.3h-3.0z M557.49 792.9h3.0V798.9h-3.0z M564.34 796.7h3.0V799.5h-3.0z M567.76 793.8h3.0V797.9h-3.0z M571.18 794.1h3.0V795.1h-3.0z M574.61 794.3h3.0V795.3h-3.0z M584.88 800.8h3.0V802.1h-3.0z M588.30 800.3h3.0V801.3h-3.0z M595.15 804.3h3.0V806.2h-3.0z M602.00 800.8h3.0V804.6h-3.0z M605.42 796.7h3.0V800.5h-3.0z M612.27 794.8h3.0V797.9h-3.0z M619.12 788.4h3.0V797.3h-3.0z M625.97 795.0h3.0V796.0h-3.0z M629.39 793.5h3.0V796.7h-3.0z M636.24 795.0h3.0V796.0h-3.0z M639.66 794.4h3.0V795.4h-3.0z M643.08 793.7h3.0V794.7h-3.0z M649.93 791.9h3.0V795.4h-3.0z M656.78 797.0h3.0V799.8h-3.0z M660.20 796.8h3.0V797.8h-3.0z M667.05 797.3h3.0V799.5h-3.0z M670.47 796.3h3.0V797.3h-3.0z M684.17 798.9h3.0V799.9h-3.0z M691.02 794.8h3.0V799.2h-3.0z M711.56 801.4h3.0V803.0h-3.0z M714.98 800.5h3.0V801.7h-3.0z M721.83 800.6h3.0V801.6h-3.0z M732.10 801.2h3.0V802.2h-3.0z M738.95 798.9h3.0V802.1h-3.0z M745.80 797.6h3.0V800.2h-3.0z M752.65 799.7h3.0V800.7h-3.0z M759.49 799.1h3.0V801.0h-3.0z M766.34 799.8h3.0V800.8h-3.0z M776.61 800.7h3.0V801.7h-3.0z M780.04 800.2h3.0V801.2h-3.0z M783.46 800.0h3.0V801.0h-3.0z M790.31 797.8h3.0V801.3h-3.0z M793.73 796.3h3.0V799.1h-3.0z M797.16 795.6h3.0V797.2h-3.0z M804.00 794.7h3.0V796.3h-3.0z M807.43 790.5h3.0V795.0h-3.0z M810.85 779.1h3.0V792.5h-3.0z M817.70 776.9h3.0V781.0h-3.0z M821.12 778.6h3.0V779.6h-3.0z M824.55 775.3h3.0V779.4h-3.0z M827.97 769.6h3.0V776.6h-3.0z M834.82 776.6h3.0V778.5h-3.0z M841.66 770.9h3.0V778.2h-3.0z M845.09 770.4h3.0V771.4h-3.0z M851.94 770.9h3.0V772.1h-3.0z M858.78 769.3h3.0V772.5h-3.0z M865.63 773.7h3.0V775.3h-3.0z M869.06 770.9h3.0V774.0h-3.0z M875.90 769.7h3.0V770.7h-3.0z M879.33 769.4h3.0V770.4h-3.0z M882.75 763.4h3.0V769.8h-3.0z M893.02 769.8h3.0V771.0h-3.0z M899.87 771.7h3.0V772.9h-3.0z M906.72 770.7h3.0V772.3h-3.0z M913.56 773.9h3.0V776.1h-3.0z M920.41 773.6h3.0V775.5h-3.0z M927.26 771.7h3.0V774.2h-3.0z M934.11 767.9h3.0V772.9h-3.0z M944.38 785.9h3.0V790.7h-3.0z M951.23 788.2h3.0V789.4h-3.0z M954.65 786.9h3.0V789.4h-3.0z M961.50 787.8h3.0V789.8h-3.0z M964.92 786.9h3.0V787.9h-3.0z M968.35 786.9h3.0V787.9h-3.0z M971.77 786.3h3.0V787.5h-3.0z M978.62 783.1h3.0V788.2h-3.0z M982.04 782.1h3.0V783.1h-3.0z M985.46 779.3h3.0V782.5h-3.0z M995.74 778.3h3.0V780.2h-3.0z M1006.01 784.8h3.0V786.4h-3.0z M1012.85 782.6h3.0V789.0h-3.0z M1019.70 782.6h3.0V783.6h-3.0z M1023.13 782.3h3.0V784.2h-3.0z M1029.97 782.0h3.0V783.6h-3.0z M1047.09 784.2h3.0V785.2h-3.0z M1050.52 782.6h3.0V783.6h-3.0z M1057.36 783.7h3.0V784.7h-3.0z M1060.79 781.0h3.0V784.5h-3.0z M1064.21 779.1h3.0V781.3h-3.0z M1067.64 776.3h3.0V779.4h-3.0z M1071.06 775.4h3.0V776.4h-3.0z M1074.48 773.7h3.0V776.9h-3.0z M1084.75 773.4h3.0V776.3h-3.0z M1091.60 774.6h3.0V775.9h-3.0z M1095.03 774.1h3.0V775.1h-3.0z M1098.45 771.1h3.0V774.2h-3.0z M1101.87 767.6h3.0V771.1h-3.0z M1105.30 758.5h3.0V769.4h-3.0z M1108.72 755.8h3.0V759.3h-3.0z M1115.57 754.5h3.0V757.6h-3.0z M1122.42 754.9h3.0V755.9h-3.0z M1125.84 747.5h3.0V755.4h-3.0z M1132.69 750.2h3.0V753.2h-3.0z M1136.11 749.3h3.0V751.0h-3.0z M1139.54 747.1h3.0V749.3h-3.0z M1149.81 744.1h3.0V748.9h-3.0z M1153.23 742.7h3.0V744.1h-3.0z M1156.65 725.3h3.0V742.7h-3.0z M1166.93 726.7h3.0V734.9h-3.0z M1177.20 724.7h3.0V729.8h-3.0z M1180.62 717.2h3.0V727.1h-3.0z M1184.04 717.2h3.0V720.6h-3.0z M1194.32 713.2h3.0V722.7h-3.0z M1197.74 701.0h3.0V713.9h-3.0z M1201.16 700.3h3.0V702.0h-3.0z M1204.59 700.3h3.0V702.0h-3.0z M1208.01 689.8h3.0V700.6h-3.0z M1211.43 689.9h3.0V690.9h-3.0z M1221.71 684.7h3.0V694.9h-3.0z M1235.40 702.7h3.0V708.4h-3.0z M1238.83 698.6h3.0V702.7h-3.0z M1242.25 679.1h3.0V696.5h-3.0z M1249.10 683.9h3.0V689.7h-3.0z M1252.52 681.5h3.0V683.9h-3.0z M1259.37 685.1h3.0V691.4h-3.0z M1262.79 682.4h3.0V684.9h-3.0z M1273.06 691.7h3.0V694.1h-3.0z M1283.33 688.3h3.0V698.0h-3.0z M1286.76 685.4h3.0V688.3h-3.0z M1290.18 683.9h3.0V685.4h-3.0z M1293.61 681.7h3.0V684.1h-3.0z M1297.03 657.6h3.0V682.7h-3.0z M1300.45 642.7h3.0V659.7h-3.0z M1303.88 638.0h3.0V645.4h-3.0z M1307.30 630.5h3.0V641.4h-3.0z M1317.57 630.5h3.0V642.7h-3.0z M1324.42 631.9h3.0V637.3h-3.0z M1327.84 620.3h3.0V634.6h-3.0z M1331.27 599.3h3.0V621.0h-3.0z M1338.12 592.5h3.0V603.4h-3.0z M1341.54 590.5h3.0V592.5h-3.0z M1344.96 570.8h3.0V589.2h-3.0z M1348.39 568.1h3.0V572.2h-3.0z M1351.81 564.6h3.0V572.0h-3.0z M1355.23 533.3h3.0V565.5h-3.0z M1358.66 523.2h3.0V535.2h-3.0z M1365.51 511.2h3.0V535.2h-3.0z M1368.93 479.9h3.0V511.2h-3.0z M1372.35 448.7h3.0V479.0h-3.0z M1375.78 435.8h3.0V448.7h-3.0z M1392.90 472.6h3.0V512.2h-3.0z M1396.32 453.3h3.0V472.6h-3.0z M1410.02 482.6h3.0V490.9h-3.0z M1423.71 524.0h3.0V549.8h-3.0z M1430.56 533.2h3.0V535.0h-3.0z M1437.41 530.4h3.0V548.8h-3.0z M1444.25 518.5h3.0V554.4h-3.0z M1447.68 509.8h3.0V518.5h-3.0z M1451.10 509.0h3.0V510.0h-3.0z M1457.95 504.7h3.0V517.6h-3.0z M1461.37 489.9h3.0V518.5h-3.0z M1464.80 470.1h3.0V494.1h-3.0z M1471.64 462.4h3.0V476.6h-3.0z M1475.07 451.7h3.0V462.8h-3.0z M1481.92 368.0h3.0V456.3h-3.0z M1485.34 367.4h3.0V368.9h-3.0z M1492.19 349.6h3.0V385.5h-3.0z M1502.46 342.2h3.0V358.8h-3.0z M1509.31 336.1h3.0V350.3h-3.0z M1512.73 301.5h3.0V337.1h-3.0z M1519.58 257.2h3.0V308.6h-3.0z M1526.42 239.5h3.0V257.8h-3.0z M1536.70 330.0h3.0V339.2h-3.0z M1553.82 330.0h3.0V380.8h-3.0z M1560.66 321.9h3.0V344.2h-3.0z M1567.51 340.0h3.0V345.1h-3.0z M1570.93 339.0h3.0V340.0h-3.0z M1574.36 315.6h3.0V339.0h-3.0z M1577.78 299.3h3.0V315.6h-3.0z M1581.21 269.8h3.0V299.3h-3.0z M1584.63 258.6h3.0V269.8h-3.0z M1588.05 237.3h3.0V258.6h-3.0z M1594.90 196.6h3.0V241.4h-3.0z M1605.17 246.4h3.0V261.7h-3.0z M1608.60 223.5h3.0V246.4h-3.0z M1615.44 233.5h3.0V237.6h-3.0z M1618.87 232.5h3.0V233.5h-3.0z M1629.14 276.3h3.0V278.8h-3.0z M1639.41 267.3h3.0V311.8h-3.0z M1642.83 259.0h3.0V267.3h-3.0z M1649.68 237.6h3.0V259.8h-3.0z M1653.11 225.2h3.0V237.6h-3.0z M1656.53 224.3h3.0V225.3h-3.0z M1663.38 222.7h3.0V226.0h-3.0z M1670.22 230.7h3.0V244.7h-3.0z M1673.65 219.9h3.0V230.7h-3.0z M1683.92 232.4h3.0V260.3h-3.0z M1687.34 231.8h3.0V232.8h-3.0z M1690.77 213.3h3.0V232.4h-3.0z M1694.19 210.6h3.0V213.3h-3.0z M1701.04 168.3h3.0V212.9h-3.0z M1707.89 173.1h3.0V175.8h-3.0z M1725.01 250.9h3.0V261.0h-3.0z M1745.55 279.4h3.0V336.5h-3.0z M1748.97 268.7h3.0V279.4h-3.0z M1759.24 236.1h3.0V285.8h-3.0z M1762.67 235.2h3.0V236.2h-3.0z M1769.51 243.5h3.0V249.9h-3.0z M1776.36 239.7h3.0V291.5h-3.0z M1783.21 241.3h3.0V251.3h-3.0z M1786.63 222.3h3.0V241.3h-3.0z M1796.90 248.0h3.0V258.0h-3.0z M1803.75 330.5h3.0V333.4h-3.0z M1807.18 328.3h3.0V331.6h-3.0z" fill="#26a69a"/>
<path d="M13.11 819.0h3.0V820.2h-3.0z M19.95 820.0h3.0V821.9h-3.0z M23.38 821.9h3.0V823.5h-3.0z M26.80 823.2h3.0V824.4h-3.0z M30.22 823.2h3.0V825.1h-3.0z M37.07 823.2h3.0V826.0h-3.0z M43.92 824.4h3.0V827.9h-3.0z M47.34 827.6h3.0V831.1h-3.0z M54.19 822.2h3.0V825.1h-3.0z M61.04 824.1h3.0V825.1h-3.0z M67.89 820.3h3.0V822.9h-3.0z M71.31 821.9h3.0V823.8h-3.0z M74.73 823.2h3.0V824.4h-3.0z M78.16 823.4h3.0V824.4h-3.0z M91.85 821.6h3.0V824.1h-3.0z M95.28 823.2h3.0V824.4h-3.0z M102.12 824.4h3.0V826.7h-3.0z M122.67 812.4h3.0V814.9h-3.0z M126.09 814.6h3.0V816.8h-3.0z M132.94 811.1h3.0V814.3h-3.0z M139.79 812.7h3.0V813.7h-3.0z M146.63 804.8h3.0V806.7h-3.0z M150.06 805.4h3.0V806.7h-3.0z M160.33 804.4h3.0V806.0h-3.0z M163.75 806.3h3.0V807.9h-3.0z M170.60 805.7h3.0V806.7h-3.0z M174.02 806.7h3.0V810.5h-3.0z M180.87 809.5h3.0V810.8h-3.0z M194.57 798.4h3.0V800.3h-3.0z M201.41 797.1h3.0V799.0h-3.0z M208.26 798.1h3.0V799.1h-3.0z M211.69 798.4h3.0V800.3h-3.0z M215.11 799.7h3.0V801.6h-3.0z M235.65 789.5h3.0V793.6h-3.0z M245.92 786.3h3.0V787.9h-3.0z M252.77 787.0h3.0V792.7h-3.0z M259.62 792.2h3.0V794.4h-3.0z M266.47 788.7h3.0V796.1h-3.0z M276.74 794.7h3.0V795.7h-3.0z M283.59 791.3h3.0V794.8h-3.0z M287.01 795.3h3.0V799.6h-3.0z M290.43 798.7h3.0V805.3h-3.0z M297.28 805.3h3.0V807.0h-3.0z M300.70 806.1h3.0V807.1h-3.0z M310.98 804.0h3.0V805.7h-3.0z M314.40 805.0h3.0V806.0h-3.0z M324.67 800.9h3.0V803.5h-3.0z M328.09 804.4h3.0V814.0h-3.0z M331.52 814.0h3.0V815.3h-3.0z M334.94 814.4h3.0V815.4h-3.0z M341.79 814.9h3.0V851.9h-3.0z M348.64 841.9h3.0V847.6h-3.0z M355.48 845.4h3.0V848.9h-3.0z M372.60 834.9h3.0V836.2h-3.0z M376.03 834.9h3.0V839.3h-3.0z M386.30 828.5h3.0V830.2h-3.0z M393.15 828.1h3.0V833.6h-3.0z M396.57 833.2h3.0V835.3h-3.0z M399.99 834.9h3.0V839.0h-3.0z M417.11 828.5h3.0V829.5h-3.0z M423.96 827.5h3.0V828.5h-3.0z M430.81 822.0h3.0V824.1h-3.0z M437.66 822.0h3.0V823.4h-3.0z M441.08 822.7h3.0V828.1h-3.0z M451.35 827.3h3.0V828.3h-3.0z M458.20 827.5h3.0V830.2h-3.0z M465.05 824.8h3.0V825.8h-3.0z M471.89 823.4h3.0V825.1h-3.0z M475.32 824.1h3.0V828.1h-3.0z M502.71 817.1h3.0V818.1h-3.0z M509.56 804.9h3.0V807.5h-3.0z M519.83 802.4h3.0V805.2h-3.0z M523.25 803.6h3.0V804.6h-3.0z M536.95 791.3h3.0V793.2h-3.0z M540.37 792.5h3.0V796.0h-3.0z M543.79 796.3h3.0V806.2h-3.0z M547.22 805.5h3.0V808.1h-3.0z M560.91 792.9h3.0V799.8h-3.0z M578.03 793.5h3.0V796.7h-3.0z M581.46 796.3h3.0V803.0h-3.0z M591.73 800.5h3.0V806.2h-3.0z M598.57 803.9h3.0V804.9h-3.0z M608.85 796.7h3.0V798.2h-3.0z M615.69 795.1h3.0V797.3h-3.0z M622.54 789.0h3.0V796.0h-3.0z M632.81 793.5h3.0V795.4h-3.0z M646.51 792.9h3.0V795.4h-3.0z M653.36 791.9h3.0V799.5h-3.0z M663.63 797.3h3.0V799.8h-3.0z M673.90 796.3h3.0V797.9h-3.0z M677.32 797.9h3.0V798.9h-3.0z M680.75 798.5h3.0V799.5h-3.0z M687.59 798.6h3.0V799.6h-3.0z M694.44 794.6h3.0V795.6h-3.0z M697.87 795.4h3.0V799.8h-3.0z M701.29 799.5h3.0V801.4h-3.0z M704.71 800.5h3.0V801.7h-3.0z M708.14 801.4h3.0V803.0h-3.0z M718.41 800.6h3.0V801.6h-3.0z M725.26 799.8h3.0V802.7h-3.0z M728.68 801.6h3.0V802.6h-3.0z M735.53 801.4h3.0V802.4h-3.0z M742.37 799.2h3.0V800.2h-3.0z M749.22 797.3h3.0V800.5h-3.0z M756.07 799.3h3.0V800.3h-3.0z M762.92 799.1h3.0V800.4h-3.0z M769.76 800.0h3.0V801.0h-3.0z M773.19 800.4h3.0V801.7h-3.0z M786.88 800.3h3.0V801.3h-3.0z M800.58 795.6h3.0V796.9h-3.0z M814.27 777.9h3.0V780.4h-3.0z M831.39 769.6h3.0V778.8h-3.0z M838.24 776.3h3.0V777.9h-3.0z M848.51 770.2h3.0V772.1h-3.0z M855.36 770.7h3.0V771.7h-3.0z M862.21 769.0h3.0V775.3h-3.0z M872.48 769.9h3.0V770.9h-3.0z M886.17 763.4h3.0V769.1h-3.0z M889.60 768.5h3.0V771.7h-3.0z M896.45 769.4h3.0V772.3h-3.0z M903.29 771.5h3.0V772.5h-3.0z M910.14 770.7h3.0V775.5h-3.0z M916.99 773.2h3.0V776.1h-3.0z M923.84 773.2h3.0V774.2h-3.0z M930.68 771.5h3.0V772.5h-3.0z M937.53 768.5h3.0V774.8h-3.0z M940.95 774.5h3.0V791.0h-3.0z M947.80 786.3h3.0V789.4h-3.0z M958.07 786.6h3.0V789.4h-3.0z M975.19 786.3h3.0V788.2h-3.0z M988.89 779.6h3.0V781.5h-3.0z M992.31 779.7h3.0V780.7h-3.0z M999.16 778.6h3.0V781.2h-3.0z M1002.58 780.5h3.0V786.9h-3.0z M1009.43 785.5h3.0V788.6h-3.0z M1016.28 782.6h3.0V784.2h-3.0z M1026.55 781.7h3.0V783.2h-3.0z M1033.40 782.0h3.0V783.2h-3.0z M1036.82 782.0h3.0V783.9h-3.0z M1040.24 783.6h3.0V785.1h-3.0z M1043.67 784.3h3.0V785.3h-3.0z M1053.94 782.6h3.0V785.1h-3.0z M1077.91 773.4h3.0V775.3h-3.0z M1081.33 774.4h3.0V775.6h-3.0z M1088.18 773.4h3.0V776.6h-3.0z M1112.14 755.8h3.0V758.0h-3.0z M1118.99 754.5h3.0V755.8h-3.0z M1129.26 747.5h3.0V753.2h-3.0z M1142.96 745.8h3.0V748.4h-3.0z M1146.38 747.5h3.0V748.9h-3.0z M1160.08 724.9h3.0V726.2h-3.0z M1163.50 726.2h3.0V734.5h-3.0z M1170.35 727.1h3.0V728.8h-3.0z M1173.77 728.1h3.0V730.1h-3.0z M1187.47 717.6h3.0V720.0h-3.0z M1190.89 720.3h3.0V721.7h-3.0z M1214.86 689.8h3.0V692.8h-3.0z M1218.28 692.1h3.0V693.5h-3.0z M1225.13 684.7h3.0V689.1h-3.0z M1228.55 688.4h3.0V707.4h-3.0z M1231.98 705.7h3.0V708.4h-3.0z M1245.67 679.1h3.0V689.7h-3.0z M1255.94 681.2h3.0V691.4h-3.0z M1266.22 682.4h3.0V684.4h-3.0z M1269.64 684.4h3.0V696.0h-3.0z M1276.49 692.1h3.0V695.5h-3.0z M1279.91 695.3h3.0V697.5h-3.0z M1310.73 630.5h3.0V639.3h-3.0z M1314.15 634.6h3.0V642.7h-3.0z M1321.00 630.5h3.0V641.4h-3.0z M1334.69 600.0h3.0V603.4h-3.0z M1362.08 524.1h3.0V535.2h-3.0z M1379.20 435.8h3.0V440.4h-3.0z M1382.62 440.4h3.0V463.4h-3.0z M1386.05 463.4h3.0V495.6h-3.0z M1389.47 495.6h3.0V512.2h-3.0z M1399.74 453.3h3.0V479.9h-3.0z M1403.17 479.9h3.0V487.3h-3.0z M1406.59 480.7h3.0V490.9h-3.0z M1413.44 480.7h3.0V489.9h-3.0z M1416.86 489.9h3.0V495.5h-3.0z M1420.29 493.6h3.0V549.8h-3.0z M1427.13 524.9h3.0V535.0h-3.0z M1433.98 532.3h3.0V536.0h-3.0z M1440.83 530.4h3.0V554.4h-3.0z M1454.52 508.9h3.0V517.6h-3.0z M1468.22 471.1h3.0V476.6h-3.0z M1478.49 451.7h3.0V455.4h-3.0z M1488.76 367.1h3.0V381.8h-3.0z M1495.61 349.6h3.0V356.9h-3.0z M1499.03 356.9h3.0V358.8h-3.0z M1505.88 343.2h3.0V350.3h-3.0z M1516.15 301.9h3.0V308.6h-3.0z M1523.00 257.2h3.0V258.8h-3.0z M1529.85 239.5h3.0V278.1h-3.0z M1533.27 278.1h3.0V339.2h-3.0z M1540.12 330.0h3.0V360.5h-3.0z M1543.54 360.5h3.0V368.6h-3.0z M1546.97 368.6h3.0V372.7h-3.0z M1550.39 371.7h3.0V377.8h-3.0z M1557.24 331.0h3.0V343.2h-3.0z M1564.09 322.7h3.0V344.1h-3.0z M1591.48 237.3h3.0V242.4h-3.0z M1598.32 196.6h3.0V222.0h-3.0z M1601.75 223.1h3.0V260.7h-3.0z M1612.02 222.7h3.0V245.8h-3.0z M1622.29 232.6h3.0V240.9h-3.0z M1625.71 240.9h3.0V279.6h-3.0z M1632.56 276.3h3.0V300.2h-3.0z M1635.99 300.2h3.0V311.8h-3.0z M1646.26 258.9h3.0V259.9h-3.0z M1659.95 224.4h3.0V226.0h-3.0z M1666.80 222.7h3.0V245.8h-3.0z M1677.07 219.9h3.0V233.3h-3.0z M1680.50 234.2h3.0V260.3h-3.0z M1697.61 210.6h3.0V211.6h-3.0z M1704.46 168.3h3.0V175.8h-3.0z M1711.31 173.1h3.0V194.1h-3.0z M1714.73 194.1h3.0V209.8h-3.0z M1718.16 209.8h3.0V254.2h-3.0z M1721.58 253.6h3.0V261.0h-3.0z M1728.43 250.9h3.0V282.2h-3.0z M1731.85 282.2h3.0V307.0h-3.0z M1735.28 307.0h3.0V312.9h-3.0z M1738.70 312.9h3.0V330.9h-3.0z M1742.12 325.4h3.0V336.5h-3.0z M1752.40 268.7h3.0V269.8h-3.0z M1755.82 269.8h3.0V285.8h-3.0z M1766.09 235.2h3.0V244.4h-3.0z M1772.94 242.4h3.0V290.3h-3.0z M1779.79 240.1h3.0V251.3h-3.0z M1790.06 222.3h3.0V230.1h-3.0z M1793.48 229.0h3.0V258.0h-3.0z M1800.33 248.0h3.0V333.8h-3.0z M1810.60 328.3h3.0V365.1h-3.0z M1814.02 365.1h3.0V367.3h-3.0z M1817.45 367.3h3.0V381.1h-3.0z" fill="#ef5350"/>
<path d="M10 381.5H1931" stroke="#ef5350" stroke-width="1.3" stroke-dasharray="2 2.53" stroke-dashoffset="0.53" fill="none"/>
<path d="M1931.7 66V976M10 934H2038" stroke="#50535e" stroke-width="1.6" fill="none"/>
<rect x="9.7" y="66" width="2028.3" height="910.2" stroke="#50535e" stroke-width="2" fill="none"/>
<path d="M1932 907.0H1938.4 M1932 860.6H1938.4 M1932 814.1H1938.4 M1932 767.7H1938.4 M1932 721.2H1938.4 M1932 674.8H1938.4 M1932 628.3H1938.4 M1932 581.9H1938.4 M1932 535.4H1938.4 M1932 489.0H1938.4 M1932 442.5H1938.4 M1932 396.1H1938.4 M1932 349.6H1938.4 M1932 303.2H1938.4 M1932 256.7H1938.4 M1932 210.3H1938.4 M1932 163.8H1938.4 M1932 117.4H1938.4 M1932 70.9H1938.4" stroke="#50535e" stroke-width="1.6" fill="none"/>
<defs><clipPath id="pc"><rect x="1933" y="67" width="104" height="866"/></clipPath></defs>
<g clip-path="url(#pc)" font-family="Liberation Sans, sans-serif" font-size="18.4" fill="#50535e"><text x="1946.3" y="913.9" textLength="35.2" lengthAdjust="spacingAndGlyphs">0.00</text><text x="1946.3" y="867.5" textLength="63.3" lengthAdjust="spacingAndGlyphs">4000.00</text><text x="1946.3" y="821.0" textLength="63.3" lengthAdjust="spacingAndGlyphs">8000.00</text><text x="1946.3" y="774.6" textLength="72.6" lengthAdjust="spacingAndGlyphs">12000.00</text><text x="1946.3" y="728.1" textLength="72.6" lengthAdjust="spacingAndGlyphs">16000.00</text><text x="1946.3" y="681.7" textLength="72.6" lengthAdjust="spacingAndGlyphs">20000.00</text><text x="1946.3" y="635.2" textLength="72.6" lengthAdjust="spacingAndGlyphs">24000.00</text><text x="1946.3" y="588.8" textLength="72.6" lengthAdjust="spacingAndGlyphs">28000.00</text><text x="1946.3" y="542.3" textLength="72.6" lengthAdjust="spacingAndGlyphs">32000.00</text><text x="1946.3" y="495.9" textLength="72.6" lengthAdjust="spacingAndGlyphs">36000.00</text><text x="1946.3" y="449.4" textLength="72.6" lengthAdjust="spacingAndGlyphs">40000.00</text><text x="1946.3" y="403.0" textLength="72.6" lengthAdjust="spacingAndGlyphs">44000.00</text><text x="1946.3" y="356.5" textLength="72.6" lengthAdjust="spacingAndGlyphs">48000.00</text><text x="1946.3" y="310.1" textLength="72.6" lengthAdjust="spacingAndGlyphs">52000.00</text><text x="1946.3" y="263.6" textLength="72.6" lengthAdjust="spacingAndGlyphs">56000.00</text><text x="1946.3" y="217.2" textLength="72.6" lengthAdjust="spacingAndGlyphs">60000.00</text><text x="1946.3" y="170.7" textLength="72.6" lengthAdjust="spacingAndGlyphs">64000.00</text><text x="1946.3" y="124.3" textLength="72.6" lengthAdjust="spacingAndGlyphs">68000.00</text><text x="1946.3" y="77.8" textLength="72.6" lengthAdjust="spacingAndGlyphs">72000.00</text></g>
<path d="M100.2 934V940.6 M305.6 934V940.6 M514.5 934V940.6 M723.3 934V940.6 M935.6 934V940.6 M1144.5 934V940.6 M1353.3 934V940.6 M1555.3 934V940.6 M1764.2 934V940.6" stroke="#50535e" stroke-width="1.8" fill="none"/>
<g font-family="Liberation Sans, sans-serif" font-size="19" fill="#50535e"><text x="100.2" y="961.6" text-anchor="middle" font-weight="bold" textLength="41.6" lengthAdjust="spacingAndGlyphs">2020</text><text x="305.6" y="961.6" text-anchor="middle" textLength="30.0" lengthAdjust="spacingAndGlyphs">Mar</text><text x="514.5" y="961.6" text-anchor="middle" textLength="32.6" lengthAdjust="spacingAndGlyphs">May</text><text x="723.3" y="961.6" text-anchor="middle" textLength="24.0" lengthAdjust="spacingAndGlyphs">Jul</text><text x="935.6" y="961.6" text-anchor="middle" textLength="30.0" lengthAdjust="spacingAndGlyphs">Sep</text><text x="1144.5" y="961.6" text-anchor="middle" textLength="31.0" lengthAdjust="spacingAndGlyphs">Nov</text><text x="1353.3" y="961.6" text-anchor="middle" font-weight="bold" textLength="41.6" lengthAdjust="spacingAndGlyphs">2021</text><text x="1555.3" y="961.6" text-anchor="middle" textLength="30.0" lengthAdjust="spacingAndGlyphs">Mar</text><text x="1764.2" y="961.6" text-anchor="middle" textLength="32.6" lengthAdjust="spacingAndGlyphs">May</text></g>
<rect x="1963.6" y="76.8" width="41.2" height="27.4" rx="5" fill="#fff" stroke="#d4dde4" stroke-width="1"/>
<text x="1968" y="95.8" font-family="Liberation Sans, sans-serif" font-size="18.3" font-weight="bold" fill="#50535e" textLength="32.5" lengthAdjust="spacingAndGlyphs">USD</text>
<text x="23.4" y="97.8" font-family="Liberation Sans, sans-serif" font-size="18.4" font-weight="bold" fill="#50535e" textLength="308" lengthAdjust="spacingAndGlyphs">Bitcoin / U.S. Dollar, 1D, BITSTAMP</text>
<text x="23.4" y="123.6" font-family="Liberation Sans, sans-serif" font-size="18.4" fill="#50535e" textLength="28" lengthAdjust="spacingAndGlyphs">Vol</text>
<path d="M1853 368.7H1929.5V394.1H1853a4 4 0 0 1 -4 -4V372.7a4 4 0 0 1 4 -4z" fill="#ef5350"/>
<text x="1858" y="388" font-family="Liberation Sans, sans-serif" font-size="18.2" fill="#fff" textLength="63.5" lengthAdjust="spacingAndGlyphs">BTCUSD</text>
<path d="M1931.5 368.7H2026a4 4 0 0 1 4 4V411.7a4 4 0 0 1 -4 4H1931.5z" fill="#ef5350"/>
<path d="M1932 381.8H1938.4" stroke="#fff" stroke-width="1.6"/>
<text x="1946.3" y="388" font-family="Liberation Sans, sans-serif" font-size="18.2" fill="#fff" textLength="73.5" lengthAdjust="spacingAndGlyphs">45231.67</text>
<text x="1947" y="409.5" font-family="Liberation Sans, sans-serif" font-size="18.2" fill="#fff" textLength="70" lengthAdjust="spacingAndGlyphs">13:51:35</text>
<text x="10" y="25" font-family="Liberation Sans, sans-serif" font-size="18.8" font-weight="bold" fill="#1e222d" textLength="90.3" lengthAdjust="spacingAndGlyphs">samslav84</text>
<text x="106.7" y="25" font-family="Liberation Sans, sans-serif" font-size="18.8" fill="#1e222d" textLength="512.3" lengthAdjust="spacingAndGlyphs">published on TradingView.com, May 17, 2021 10:08:28 UTC</text>
<text x="10" y="50.8" font-family="Liberation Sans, sans-serif" font-size="18.8" font-weight="bold" fill="#1e222d" textLength="200.7" lengthAdjust="spacingAndGlyphs">BITSTAMP:BTCUSD, 1D</text>
<text x="220.7" y="50.8" font-family="Liberation Sans, sans-serif" font-size="18.8" fill="#1e222d" textLength="76.3" lengthAdjust="spacingAndGlyphs">45231.67</text>
<path d="M304.5 37.8H319.1L311.8 51.6z" fill="#ef5350"/>
<text x="326" y="50.8" font-family="Liberation Sans, sans-serif" font-size="18.8" fill="#1e222d" textLength="157.8" lengthAdjust="spacingAndGlyphs">−1213.08 (−2.61%)</text>
<text x="491.2" y="50.8" font-family="Liberation Sans, sans-serif" font-size="18.8" font-weight="bold" fill="#1e222d" textLength="18.9" lengthAdjust="spacingAndGlyphs">O:</text>
<text x="513.3" y="50.8" font-family="Liberation Sans, sans-serif" font-size="18.8" fill="#ef5350" textLength="78.4" lengthAdjust="spacingAndGlyphs">46446.42</text>
<text x="599.2" y="50.8" font-family="Liberation Sans, sans-serif" font-size="18.8" font-weight="bold" fill="#1e222d" textLength="18.3" lengthAdjust="spacingAndGlyphs">H:</text>
<text x="620.7" y="50.8" font-family="Liberation Sans, sans-serif" font-size="18.8" fill="#ef5350" textLength="78.4" lengthAdjust="spacingAndGlyphs">46648.50</text>
<text x="706.7" y="50.8" font-family="Liberation Sans, sans-serif" font-size="18.8" font-weight="bold" fill="#1e222d" textLength="12.8" lengthAdjust="spacingAndGlyphs">L:</text>
<text x="722.8" y="50.8" font-family="Liberation Sans, sans-serif" font-size="18.8" fill="#ef5350" textLength="78.4" lengthAdjust="spacingAndGlyphs">42185.00</text>
<text x="808.7" y="50.8" font-family="Liberation Sans, sans-serif" font-size="18.8" font-weight="bold" fill="#1e222d" textLength="16.1" lengthAdjust="spacingAndGlyphs">C:</text>
<text x="827.6" y="50.8" font-family="Liberation Sans, sans-serif" font-size="18.8" fill="#ef5350" textLength="77.8" lengthAdjust="spacingAndGlyphs">45231.67</text>
<g fill="#2ba6a0"><circle cx="16" cy="1008.6" r="6.6"/><circle cx="25" cy="1001" r="8.1"/><circle cx="40.4" cy="1007.6" r="8.1"/><rect x="13" y="1005" width="30" height="10.9" rx="2"/></g>
<path d="M10.2 1013.4L24.1 1001.4L33.2 1010.7L44 1000.5" stroke="#fff" stroke-width="1.7" fill="none"/><g fill="#fff"><circle cx="24.1" cy="1001.4" r="2.4"/><circle cx="33.2" cy="1010.7" r="2.4"/></g>
<text x="51.9" y="1010.7" font-family="Liberation Sans, sans-serif" font-size="19.6" fill="#1e222d" textLength="107" lengthAdjust="spacingAndGlyphs">TradingView</text>
</svg>
</body></html>
